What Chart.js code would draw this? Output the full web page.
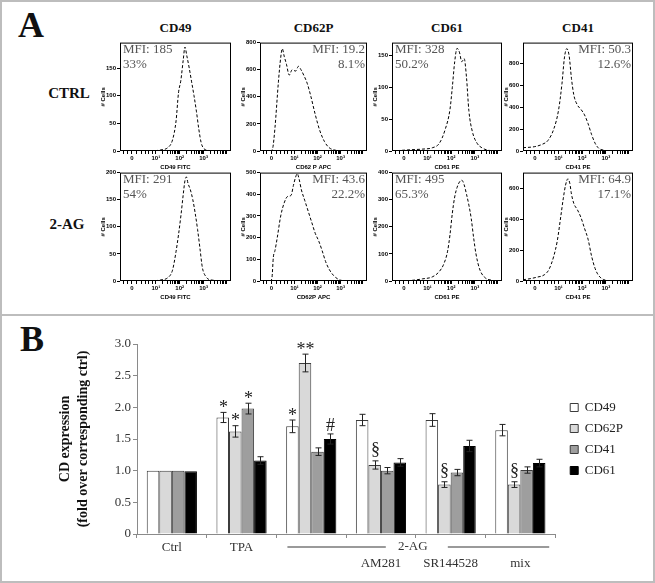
<!DOCTYPE html>
<html>
<head>
<meta charset="utf-8">
<script src="https://cdn.jsdelivr.net/npm/chart.js@4.4.1/dist/chart.umd.min.js"></script>
<style>
  body { margin: 0; background: #fff; width: 655px; height: 583px; position: relative; overflow: hidden; font-family: "Liberation Serif", "Times New Roman", serif; }
  .panel { position: absolute; box-sizing: border-box; border: 2px solid #bdbdbd; }
  .lbl { position: absolute; font-weight: bold; color: #111; white-space: nowrap; line-height: 1; transform: translate(-50%, -50%); }
  canvas { position: absolute; }
</style>
</head>
<body>
<div class="panel" style="left:0;top:0;width:655px;height:316px"></div>
<div class="panel" style="left:0;top:314px;width:655px;height:269px"></div>
<script>
// ---- panel A: flow cytometry histograms (x in decades, y in cell counts) ----
const markers = ['CD49', 'CD62P', 'CD61', 'CD41'];
const rowNames = ['CTRL', '2-AG'];
const mfiCtrl = ['MFI: 185', 'MFI: 19.2', 'MFI: 328', 'MFI: 50.3'];
const pctCtrl = ['33%', '8.1%', '50.2%', '12.6%'];
const mfiAg = ['MFI: 291', 'MFI: 43.6', 'MFI: 495', 'MFI: 64.9'];
const pctAg = ['54%', '22.2%', '65.3%', '17.1%'];
const xTitlesCtrl = ['CD49 FITC', 'CD62 P APC', 'CD61 PE', 'CD41 PE'];
const xTitlesAg = ['CD49 FITC', 'CD62P APC', 'CD61 PE', 'CD41 PE'];
const yMaxCtrl = [196, 800, 170, 990];
const yMaxAg = [200, 500, 400, 700];
const yStepCtrl = [50, 200, 50, 200];
const yStepAg = [50, 100, 100, 200];
const decadeTicks = [0, 1, 2, 3];
const decadeLabels = ['0', '10\u00b9', '10\u00b2', '10\u00b3'];

const cd49CtrlX = [-0.5, 0.8, 1.2, 1.5, 1.7, 1.85, 1.95, 2.05, 2.15, 2.22, 2.3, 2.4, 2.5, 2.6, 2.7, 2.8, 2.9, 3.0, 3.2, 3.5, 4.15];
const cd49CtrlY = [0, 0, 2, 6, 20, 55, 105, 128, 165, 188, 172, 150, 125, 100, 72, 40, 15, 5, 1, 0, 0];
const cd62pCtrlX = [-0.5, -0.05, 0.05, 0.15, 0.3, 0.4, 0.47, 0.55, 0.65, 0.77, 0.9, 1.05, 1.17, 1.28, 1.4, 1.55, 1.7, 1.9, 2.1, 2.3, 2.5, 2.8, 3.2, 4.15];
const cd62pCtrlY = [0, 0, 20, 170, 510, 690, 755, 700, 640, 560, 600, 590, 625, 600, 560, 500, 410, 270, 150, 70, 25, 5, 0, 0];
const cd61CtrlX = [-0.5, 0.3, 0.8, 1.2, 1.5, 1.75, 1.95, 2.05, 2.15, 2.25, 2.35, 2.45, 2.55, 2.65, 2.75, 2.9, 3.1, 3.3, 3.6, 4.15];
const cd61CtrlY = [0, 2, 3, 5, 12, 34, 65, 100, 140, 161, 155, 140, 145, 115, 63, 30, 12, 5, 1, 0];
const cd41CtrlX = [-0.5, 0, 0.3, 0.55, 0.8, 1.0, 1.15, 1.25, 1.35, 1.45, 1.55, 1.65, 1.8, 1.95, 2.1, 2.25, 2.4, 2.55, 2.7, 2.9, 3.2, 4.15];
const cd41CtrlY = [30, 40, 60, 95, 200, 370, 620, 850, 935, 870, 660, 510, 420, 380, 330, 250, 150, 70, 25, 8, 0, 0];

const cd49AgX = [-0.5, 0.8, 1.2, 1.5, 1.7, 1.85, 1.95, 2.05, 2.15, 2.22, 2.28, 2.35, 2.45, 2.55, 2.65, 2.75, 2.85, 2.95, 3.1, 3.3, 4.15];
const cd49AgY = [0, 0, 2, 6, 20, 55, 85, 120, 160, 185, 192, 180, 168, 150, 125, 95, 60, 25, 8, 2, 0];
const cd62pAgX = [-0.5, -0.05, 0.02, 0.08, 0.15, 0.25, 0.4, 0.55, 0.7, 0.85, 0.95, 1.05, 1.12, 1.2, 1.3, 1.45, 1.6, 1.75, 1.9, 2.05, 2.2, 2.35, 2.5, 2.7, 2.9, 3.1, 4.15];
const cd62pAgY = [0, 0, 15, 110, 140, 200, 300, 360, 390, 395, 440, 480, 495, 470, 420, 370, 320, 270, 220, 185, 140, 90, 55, 25, 8, 2, 0];
const cd61AgX = [-0.5, 0.3, 0.8, 1.2, 1.5, 1.7, 1.85, 1.95, 2.05, 2.15, 2.25, 2.35, 2.45, 2.55, 2.65, 2.75, 2.85, 2.95, 3.05, 3.2, 3.4, 3.7, 4.15];
const cd61AgY = [0, 2, 8, 15, 35, 65, 110, 170, 250, 310, 345, 365, 372, 355, 320, 280, 230, 160, 100, 45, 15, 3, 0];
const cd41AgX = [-0.5, -0.2, 0.1, 0.4, 0.6, 0.8, 0.95, 1.1, 1.2, 1.3, 1.4, 1.48, 1.55, 1.65, 1.8, 1.95, 2.1, 2.25, 2.4, 2.55, 2.7, 2.9, 3.2, 4.15];
const cd41AgY = [8, 15, 25, 40, 75, 160, 260, 420, 530, 620, 660, 630, 560, 500, 460, 410, 340, 270, 160, 80, 35, 10, 0, 0];

// ---- panel B: fold expression bars ----
const groups = ['Ctrl', 'TPA', '2-AG', 'AM281', 'SR144528', 'mix'];
const cd49Vals = [1.00, 1.84, 1.70, 1.80, 1.80, 1.64];
const cd62pVals = [1.00, 1.62, 2.70, 1.09, 0.78, 0.78];
const cd41Vals = [1.00, 1.98, 1.30, 1.00, 0.97, 1.01];
const cd61Vals = [0.99, 1.16, 1.50, 1.13, 1.39, 1.12];
const cd49Err = [0, 0.08, 0.10, 0.09, 0.10, 0.09];
const cd62pErr = [0, 0.09, 0.14, 0.065, 0.045, 0.045];
const cd41Err = [0, 0.085, 0.06, 0.05, 0.05, 0.05];
const cd61Err = [0, 0.06, 0.08, 0.06, 0.09, 0.06];
const cd49Sig = ['', '*', '*', '', '', ''];
const cd62pSig = ['', '*', '**', '\u00a7', '\u00a7', '\u00a7'];
const cd41Sig = ['', '*', '', '', '', ''];
const cd61Sig = ['', '', '#', '', '', ''];
const yTickLabels = ['0', '0.5', '1.0', '1.5', '2.0', '2.5', '3.0'];

Chart.defaults.font.family = 'Liberation Serif';

// page layout of the small plots
const colLeft = [120, 260, 392, 523];
const colWidth = [111, 107, 110, 110];
const rowTop = [42, 172];
const rowHeight = [109, 109];

function addLabel(text, cx, cy, size) {
    const d = document.createElement('div');
    d.className = 'lbl';
    d.textContent = text;
    d.style.left = cx + 'px';
    d.style.top = cy + 'px';
    d.style.fontSize = size + 'px';
    document.body.appendChild(d);
}

function makeCanvas(left, top, w, h) {
    const c = document.createElement('canvas');
    c.width = w; c.height = h;
    c.style.left = left + 'px'; c.style.top = top + 'px';
    c.style.width = w + 'px'; c.style.height = h + 'px';
    document.body.appendChild(c);
    return c;
}

addLabel('A', 31, 25, 36);
addLabel('B', 32, 339, 36);
addLabel(rowNames[0], 69, 93, 15);
addLabel(rowNames[1], 67, 224, 15);
markers.forEach((m, i) => addLabel(m, colLeft[i] + colWidth[i] / 2, 27, 13));

// minor ticks of the biexponential axis
const minorTicks = [-0.35, -0.2, 0.2, 0.4, 0.55, 0.7, 0.85];
for (let d = 1; d <= 4; d++) {
    for (let k = 2; k <= 9; k++) {
        const v = d + Math.log10(k);
        if (v < 4.15) minorTicks.push(v);
    }
}

const boxText = {
    id: 'boxText',
    afterDraw(chart, args, opts) {
        const {ctx, chartArea: a} = chart;
        ctx.save();
        ctx.strokeStyle = '#000';
        ctx.lineWidth = 1;
        ctx.strokeRect(a.left + 0.5, a.top + 0.5, a.width - 1, a.height - 1);
        ctx.font = '13px "Liberation Serif"';
        ctx.fillStyle = '#555';
        ctx.textBaseline = 'top';
        ctx.textAlign = opts.right ? 'right' : 'left';
        const x = opts.right ? a.right - 2 : a.left + 3;
        opts.lines.forEach((t, i) => ctx.fillText(t, x, a.top + i * 15));
        ctx.restore();
    }
};

const histSets = [
    [cd49CtrlX, cd49CtrlY, cd62pCtrlX, cd62pCtrlY, cd61CtrlX, cd61CtrlY, cd41CtrlX, cd41CtrlY],
    [cd49AgX, cd49AgY, cd62pAgX, cd62pAgY, cd61AgX, cd61AgY, cd41AgX, cd41AgY]
];
const tickFont = {family: 'Liberation Sans', size: 6, weight: 'bold'};

for (let r = 0; r < 2; r++) {
    for (let c = 0; c < 4; c++) {
        const xs = histSets[r][c * 2];
        const ys = histSets[r][c * 2 + 1];
        const yMax = r === 0 ? yMaxCtrl[c] : yMaxAg[c];
        const yStep = r === 0 ? yStepCtrl[c] : yStepAg[c];
        const padTop = 4, axisW = 20, axisH = 20;
        const canvas = makeCanvas(colLeft[c] - axisW, rowTop[r] - padTop, colWidth[c] + axisW + 2, rowHeight[r] + padTop + axisH);
        new Chart(canvas, {
            type: 'line',
            data: {
                datasets: [{
                    data: xs.map((x, i) => ({x: x, y: ys[i]})),
                    borderColor: '#000',
                    borderWidth: 1,
                    borderDash: [3, 2],
                    pointRadius: 0,
                    cubicInterpolationMode: 'monotone'
                }]
            },
            options: {
                responsive: false,
                animation: false,
                layout: {padding: {top: padTop, right: 2, left: 0, bottom: 0}},
                plugins: {
                    legend: {display: false},
                    tooltip: {enabled: false},
                    boxText: {
                        right: c === 1 || c === 3,
                        lines: r === 0 ? [mfiCtrl[c], pctCtrl[c]] : [mfiAg[c], pctAg[c]]
                    }
                },
                scales: {
                    x: {
                        type: 'linear', min: -0.5, max: 4.15,
                        afterBuildTicks: (s) => { s.ticks = decadeTicks.concat(minorTicks).sort((a, b) => a - b).map(v => ({value: v})); },
                        afterFit: (s) => { s.height = axisH; },
                        ticks: {
                            autoSkip: false, maxRotation: 0, padding: 1, color: '#000', font: tickFont,
                            callback: (v) => { const k = decadeTicks.indexOf(v); return k >= 0 ? decadeLabels[k] : ''; }
                        },
                        grid: {drawOnChartArea: false, tickLength: 3, color: '#000'},
                        border: {display: false},
                        title: {display: true, text: r === 0 ? xTitlesCtrl[c] : xTitlesAg[c], font: tickFont, color: '#000', padding: 0}
                    },
                    y: {
                        min: 0,
                        max: yMax,
                        afterBuildTicks: (s) => {
                            const t = [];
                            for (let v = 0; v <= yMax; v += yStep) t.push({value: v});
                            s.ticks = t;
                        },
                        afterFit: (s) => { s.width = axisW; },
                        ticks: {padding: 1, color: '#000', font: tickFont, autoSkip: false},
                        grid: {drawOnChartArea: false, tickLength: 3, color: '#000'},
                        border: {display: false},
                        title: {display: true, text: '# Cells', font: tickFont, color: '#000', padding: 0}
                    }
                }
            },
            plugins: [boxText]
        });
    }
}

// ---- panel B ----
const errorBars = {
    id: 'errorBars',
    afterDatasetsDraw(chart) {
        const {ctx, scales: {y}} = chart;
        ctx.save();
        chart.data.datasets.forEach((ds, di) => {
            const meta = chart.getDatasetMeta(di);
            meta.data.forEach((bar, i) => {
                const v = ds.data[i], err = ds.errors[i];
                const top = y.getPixelForValue(v + err);
                const x = Math.round(bar.x) + 0.5;
                if (err > 0) {
                    const bot = y.getPixelForValue(v - err);
                    ctx.strokeStyle = '#222';
                    ctx.lineWidth = 1;
                    ctx.beginPath();
                    ctx.moveTo(x, top); ctx.lineTo(x, bot);
                    ctx.moveTo(x - 3, top); ctx.lineTo(x + 3, top);
                    ctx.moveTo(x - 3, bot); ctx.lineTo(x + 3, bot);
                    ctx.stroke();
                }
                const mark = ds.marks[i];
                if (mark) {
                    ctx.font = '18px "Liberation Serif"';
                    ctx.fillStyle = '#222';
                    ctx.textAlign = 'center';
                    ctx.textBaseline = 'alphabetic';
                    const m = ctx.measureText(mark);
                    const cy = top - (mark === '\u00a7' ? 11 : 9);
                    ctx.fillText(mark, x, cy + (m.actualBoundingBoxAscent - m.actualBoundingBoxDescent) / 2);
                }
            });
        });
        ctx.restore();
    }
};

const groupBracket = {
    id: 'groupBracket',
    afterDraw(chart) {
        const {ctx, scales: {x}} = chart;
        const half = (x.getPixelForValue(1) - x.getPixelForValue(0)) / 2;
        const start = x.getPixelForValue(2) - half;
        const end = x.getPixelForValue(5) + half;
        const mid = (start + end) / 2 - 3;
        const yy = x.top + 13;
        ctx.save();
        ctx.strokeStyle = '#7a7a7a';
        ctx.lineWidth = 1.5;
        ctx.beginPath();
        ctx.moveTo(start + 11, yy); ctx.lineTo(mid - 27, yy);
        ctx.moveTo(mid + 35, yy); ctx.lineTo(end - 6, yy);
        ctx.stroke();
        ctx.font = '13px "Liberation Serif"';
        ctx.fillStyle = '#333';
        ctx.textAlign = 'center';
        ctx.textBaseline = 'middle';
        ctx.fillText(groups[2], mid, yy);
        ctx.restore();
    }
};

const legendShift = {
    id: 'legendShift',
    afterLayout(chart) {
        chart.legend.left += 7;
        chart.legend.right += 7;
    }
};

const serif13 = {family: 'Liberation Serif', size: 13};
const canvasB = makeCanvas(0, 316, 652, 264);
new Chart(canvasB, {
    type: 'bar',
    data: {
        labels: groups,
        datasets: [
            {label: 'CD49', data: cd49Vals, errors: cd49Err, marks: cd49Sig, backgroundColor: '#ffffff', borderColor: '#3c3c3c', borderWidth: 1},
            {label: 'CD62P', data: cd62pVals, errors: cd62pErr, marks: cd62pSig, backgroundColor: '#d9d9d9', borderColor: '#3c3c3c', borderWidth: 1},
            {label: 'CD41', data: cd41Vals, errors: cd41Err, marks: cd41Sig, backgroundColor: '#9e9e9e', borderColor: '#3c3c3c', borderWidth: 1},
            {label: 'CD61', data: cd61Vals, errors: cd61Err, marks: cd61Sig, backgroundColor: '#000000', borderColor: '#000000', borderWidth: 1}
        ]
    },
    options: {
        responsive: false,
        animation: false,
        layout: {padding: {top: 28, left: 0, right: 26, bottom: 0}},
        datasets: {bar: {categoryPercentage: 0.72, barPercentage: 1}},
        plugins: {
            legend: {
                position: 'right',
                fullSize: false,
                labels: {boxWidth: 8, boxHeight: 8, padding: 8, color: '#222', font: {family: 'Liberation Serif', size: 13}}
            },
            tooltip: {enabled: false}
        },
        scales: {
            x: {
                afterFit: (s) => { s.height = 46; },
                ticks: {
                    padding: 2, color: '#333', font: serif13, maxRotation: 0, autoSkip: false,
                    callback: (v, i) => i < 2 ? groups[i] : (i === 2 ? '' : ['', groups[i]])
                },
                grid: {offset: true, drawOnChartArea: false, tickLength: 4, color: '#8a8a8a'},
                border: {color: '#8a8a8a'}
            },
            y: {
                min: 0, max: 3,
                afterFit: (s) => { s.width = 137; },
                ticks: {stepSize: 0.5, padding: 2, color: '#333', font: serif13, callback: (v, i) => yTickLabels[i]},
                grid: {drawOnChartArea: false, tickLength: 4, color: '#8a8a8a'},
                border: {color: '#8a8a8a'},
                title: {
                    display: true,
                    text: ['CD expression', '(fold over corresponding ctrl)'],
                    font: {family: 'Liberation Serif', size: 14, weight: 'bold', lineHeight: 1.3},
                    color: '#111',
                    padding: {top: 56, bottom: 0}
                }
            }
        }
    },
    plugins: [errorBars, groupBracket, legendShift]
});
</script>
</body>
</html>
